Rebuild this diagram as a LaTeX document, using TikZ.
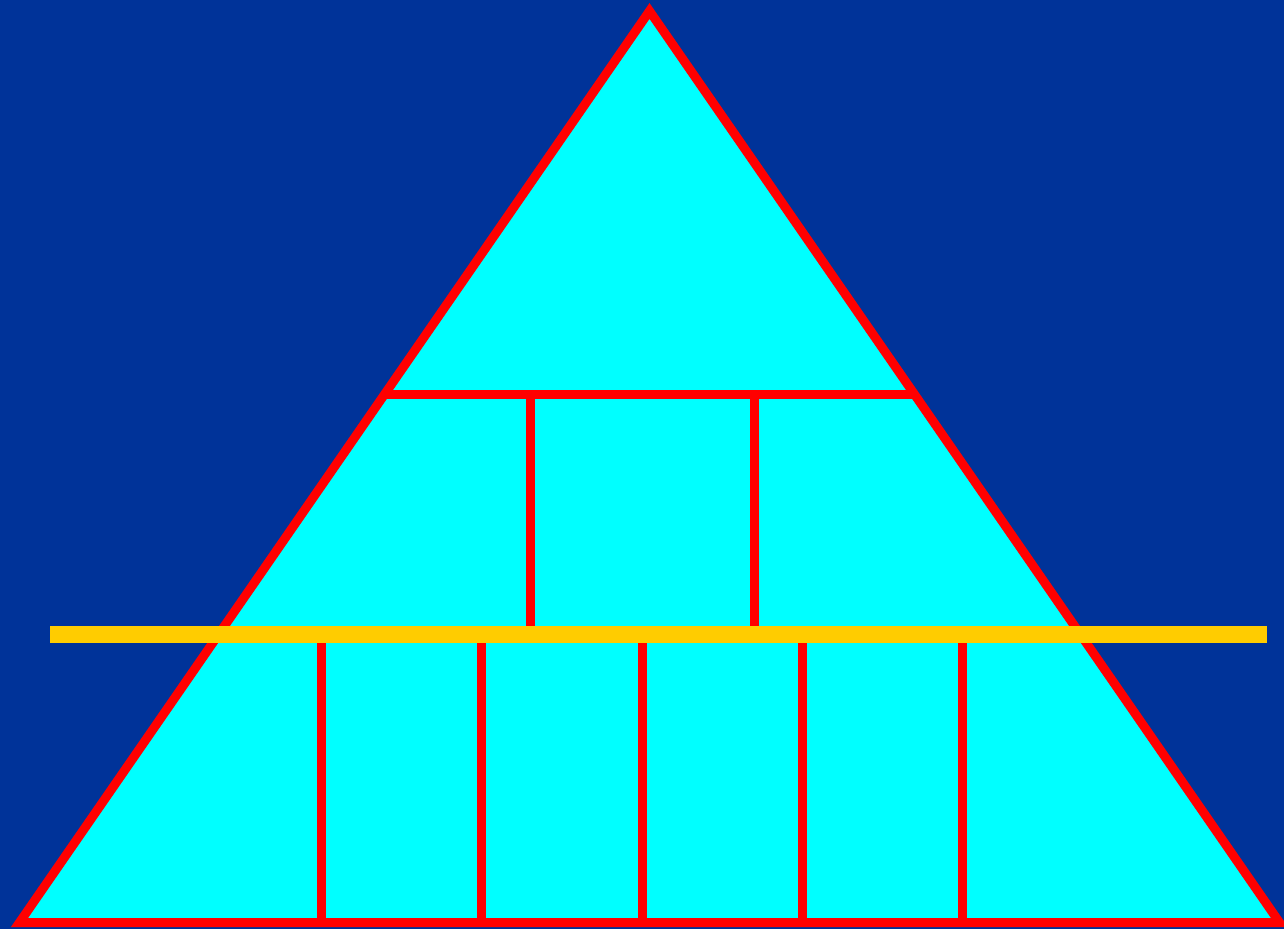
\documentclass[tikz,border=0pt]{standalone}
\definecolor{bgblue}{RGB}{0,51,153}
\definecolor{tricyan}{RGB}{0,255,255}
\definecolor{edgered}{RGB}{255,0,0}
\definecolor{baryellow}{RGB}{255,204,0}
\begin{document}
\begin{tikzpicture}[x=1pt,y=-1pt,
  redline/.style={draw=edgered,line width=9pt},
  trifill/.style={fill=tricyan}]
\useasboundingbox (0,0) rectangle (1284,929);
\fill[bgblue] (0,0) rectangle (1284,929);
\coordinate (apex) at (649.5,11);
\coordinate (bl) at (19.5,922.5);
\coordinate (br) at (1279.5,922.5);
\fill[trifill] (apex) -- (bl) -- (br) -- cycle;
% upper tier
\draw[redline] (384.4,394.5) -- (914.6,394.5);
\draw[redline] (530.5,394.5) -- (530.5,634);
\draw[redline] (754.5,394.5) -- (754.5,634);
% lower tier
\foreach \x in {321.5,481.5,642.5,802.5,962.5}
  \draw[redline] (\x,634) -- (\x,922.5);
% triangle outline
\draw[redline,line join=miter] (apex) -- (bl) -- (br) -- cycle;
% yellow bar
\fill[baryellow] (50,626) rectangle (1267,643);
\end{tikzpicture}
\end{document}
